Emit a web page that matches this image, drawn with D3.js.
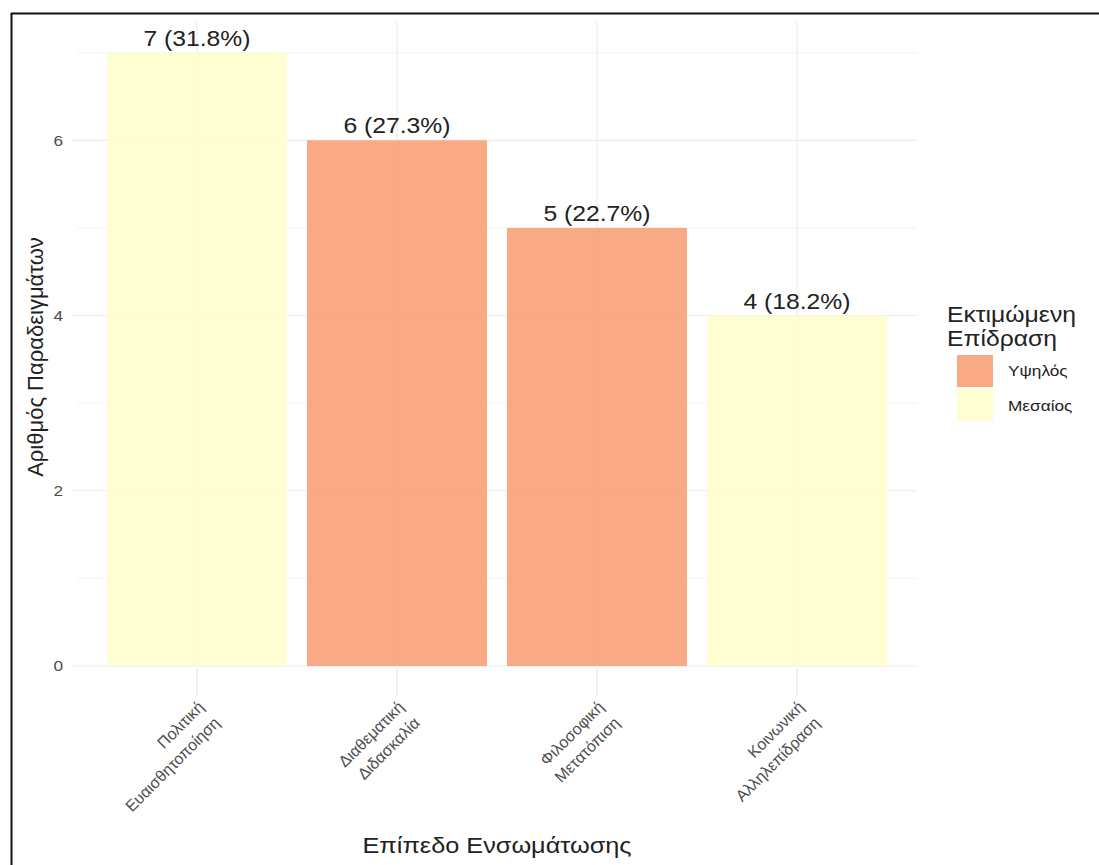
<!DOCTYPE html>
<html><head><meta charset="utf-8">
<script src="https://cdn.jsdelivr.net/npm/d3@7"></script>
<style>body{margin:0;background:#fff}svg{display:block}text{font-family:"Liberation Sans",Arial,sans-serif}</style>
</head><body>
<script>
const categories = [["Πολιτική","Ευαισθητοποίηση"],["Διαθεματική","Διδασκαλία"],["Φιλοσοφική","Μετατόπιση"],["Κοινωνική","Αλληλεπίδραση"]];
const counts = [7, 6, 5, 4];
const labels = ["7 (31.8%)", "6 (27.3%)", "5 (22.7%)", "4 (18.2%)"];
const impact = ["Μεσαίος", "Υψηλός", "Υψηλός", "Μεσαίος"];
const legendLevels = ["Υψηλός", "Μεσαίος"];
const legendColors = ["#F9A27A", "#FEFECE"];
const yTicks = [0, 2, 4, 6];
const yMinor = [1, 3, 5, 7];

const W = 1099, H = 865;
const SX = 1.15; // horizontal stretch of the reference text
const svg = d3.select("body").append("svg").attr("width", W).attr("height", H);
const panel = {l: 77, r: 917, t: 22, b: 666};

const x = d3.scaleBand().domain(d3.range(categories.length)).range([panel.l, panel.r]).paddingInner(0.1).paddingOuter(0.15);
const y = d3.scaleLinear().domain([0, 7.35]).range([panel.b, panel.t]);
const color = d3.scaleOrdinal().domain(legendLevels).range(legendColors);

function stext(parent, px, py, str, opts) {
  const g = parent.append("g").attr("transform", `translate(${px},${py}) scale(${SX},1)`);
  const t = g.append("text").attr("x", 0).attr("y", 0).text(str)
    .attr("font-size", opts.size).attr("fill", opts.fill || "#222")
    .attr("text-anchor", opts.anchor || "start");
  if (opts.dy) t.attr("dy", opts.dy);
  return t;
}

// grid
svg.append("g").selectAll("line").data(yMinor).join("line")
  .attr("x1", panel.l).attr("x2", panel.r).attr("y1", d => y(d)).attr("y2", d => y(d))
  .attr("stroke", "#F3F3F3").attr("stroke-width", 1);
svg.append("g").selectAll("line").data(yTicks).join("line")
  .attr("x1", panel.l - 5).attr("x2", panel.r).attr("y1", d => y(d)).attr("y2", d => y(d))
  .attr("stroke", "#EBEBEB").attr("stroke-width", 1.2);
svg.append("g").selectAll("line").data(d3.range(categories.length)).join("line")
  .attr("x1", d => x(d) + x.bandwidth()/2).attr("x2", d => x(d) + x.bandwidth()/2)
  .attr("y1", panel.t).attr("y2", panel.b)
  .attr("stroke", "#EBEBEB").attr("stroke-width", 1.2);
// x ticks
svg.append("g").selectAll("line").data(d3.range(categories.length)).join("line")
  .attr("x1", d => x(d) + x.bandwidth()/2).attr("x2", d => x(d) + x.bandwidth()/2)
  .attr("y1", panel.b + 3).attr("y2", panel.b + 30)
  .attr("stroke", "#E6E6E6").attr("stroke-width", 1.2);

// bars
svg.append("g").selectAll("rect").data(counts).join("rect")
  .attr("x", (d, i) => x(i)).attr("width", x.bandwidth())
  .attr("y", d => y(d)).attr("height", d => y(0) - y(d))
  .attr("fill", (d, i) => color(impact[i])).attr("fill-opacity", 0.92);

// bar labels
const bl = svg.append("g");
counts.forEach((d, i) => {
  stext(bl, x(i) + x.bandwidth()/2, y(d) - 7, labels[i], {size: 21.5, anchor: "middle"});
});

// y tick labels
const yl = svg.append("g");
yTicks.forEach(d => stext(yl, 63, y(d), d, {size: 15, anchor: "end", fill: "#4D4D4D", dy: "0.35em"}));

// x tick labels rotated
const xl = svg.append("g").selectAll("g").data(categories).join("g")
  .attr("transform", (d, i) => `translate(${x(i) + x.bandwidth()/2 - 1},${panel.b + 33}) rotate(-45)`);
xl.each(function(d) {
  const g = d3.select(this);
  d.forEach((line, j) => {
    g.append("text").attr("x", 0).attr("y", 0).attr("dy", (0.8 + j * 1.4) + "em")
      .attr("text-anchor", "end").attr("font-size", 16).attr("fill", "#4D4D4D").text(line);
  });
});

// axis titles
stext(svg, (panel.l + panel.r)/2, 853, "Επίπεδο Ενσωμάτωσης", {size: 22, anchor: "middle"});
svg.append("text").attr("transform", `translate(43,357) rotate(-90)`)
  .attr("text-anchor", "middle").attr("font-size", 22).attr("fill", "#222").text("Αριθμός Παραδειγμάτων");

// legend
const lg = svg.append("g").attr("transform", "translate(946,0)");
stext(lg, 1, 322, "Εκτιμώμενη", {size: 21.5});
stext(lg, 1, 346, "Επίδραση", {size: 21.5});
legendLevels.forEach((lv, i) => {
  lg.append("rect").attr("x", 11).attr("y", 355 + i * 34).attr("width", 36).attr("height", 32)
    .attr("fill", color(lv)).attr("fill-opacity", 0.92);
  stext(lg, 62, 371 + i * 35, lv, {size: 15, dy: "0.35em"});
});

// frame
svg.append("line").attr("x1", 11).attr("x2", W).attr("y1", 13.5).attr("y2", 13.5).attr("stroke", "#111").attr("stroke-width", 2);
svg.append("line").attr("x1", 11.5).attr("x2", 11.5).attr("y1", 13).attr("y2", H).attr("stroke", "#111").attr("stroke-width", 2);
</script>
</body></html>
